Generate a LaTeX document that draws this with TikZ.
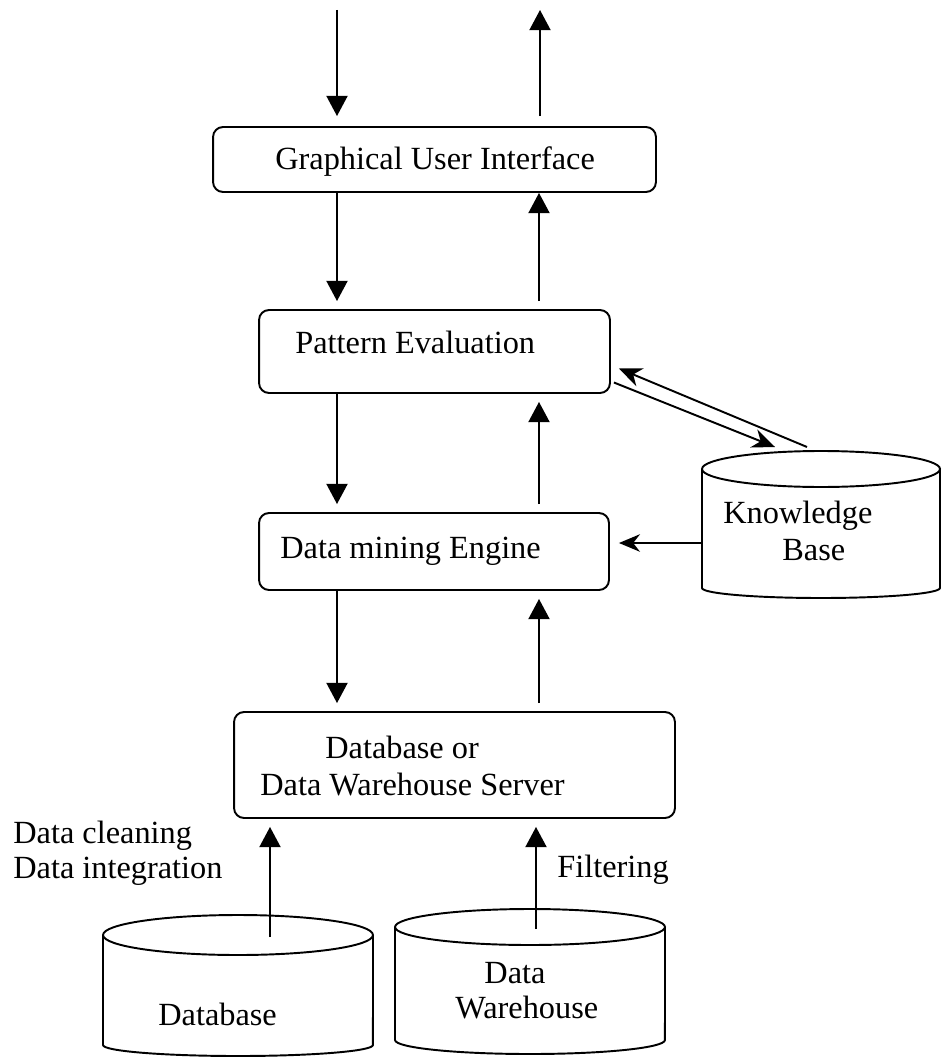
\documentclass[tikz,border=0pt]{standalone}
\usepackage{fontspec}
\setmainfont{Liberation Serif}
\usetikzlibrary{arrows.meta}
\begin{document}
\begin{tikzpicture}[x=0.02cm,y=-0.02cm,
  box/.style={draw, rounded corners=0.2cm, line width=1.1pt, inner sep=0pt},
  txt/.style={inner sep=0pt, font=\fontsize{18.4}{21.5}\selectfont},
  arr/.style={line width=1.0pt, -{Triangle[length=11.5pt,width=12pt]}},
  darr/.style={line width=1.1pt, -{Stealth[length=13pt,width=11pt]}},
  thinarr/.style={line width=0.8pt, -{Stealth[length=12pt,width=10pt]}},
  gapend/.style={shorten >=0.16cm},
  gapstart/.style={shorten <=0.16cm},
  cyl/.style={line width=1.1pt}]
\useasboundingbox (0,0) rectangle (941,1057);

% boxes
\node[box, minimum width=8.86cm, minimum height=1.3cm] (gui) at (434.5,159.5) {};
\node[box, minimum width=7.02cm, minimum height=1.66cm] (pe) at (434.5,351.5) {};
\node[box, minimum width=7.0cm, minimum height=1.54cm] (dm) at (434,551.5) {};
\node[box, minimum width=8.82cm, minimum height=2.12cm] (srv) at (454.5,765) {};

% box texts
\node[txt, anchor=base west] (guit) at (275,170) {Graphical User Interface};
\node[txt, anchor=base west] (pet) at (295,353) {Pattern Evaluation};
\node[txt, anchor=base west] (dmt) at (280,558) {Data mining Engine};
\node[txt, anchor=base west] (srvt1) at (325,758) {Database or};
\node[txt, anchor=base west] (srvt2) at (260,795) {Data Warehouse Server};

% cylinders
\draw[cyl] (821,469) ellipse [x radius=2.38cm, y radius=0.36cm];
\draw[cyl] (702,469) -- (702,588) arc[start angle=180,end angle=360,x radius=2.38cm,y radius=0.2cm] -- (940,469);
\node[txt, anchor=base west] (kbt1) at (723,523) {Knowledge};
\node[txt, anchor=base west] (kbt2) at (782,560) {Base};

\draw[cyl] (238,935) ellipse [x radius=2.7cm, y radius=0.4cm];
\draw[cyl] (103,935) -- (103,1045) arc[start angle=180,end angle=360,x radius=2.7cm,y radius=0.22cm] -- (373,935);
\node[txt, anchor=base west] (dbt) at (158,1025) {Database};

\draw[cyl] (530,927) ellipse [x radius=2.7cm, y radius=0.36cm];
\draw[cyl] (395,927) -- (395,1040) arc[start angle=180,end angle=360,x radius=2.7cm,y radius=0.28cm] -- (665,927);
\node[txt, anchor=base] (dwt1) at (515,983) {Data};
\node[txt, anchor=base west] (dwt2) at (455,1018) {Warehouse};

% labels
\node[txt, anchor=base west] (lab1) at (13,843) {Data cleaning};
\node[txt, anchor=base west] (lab2) at (13,878) {Data integration};
\node[txt, anchor=base west] (lab3) at (557,877) {Filtering};

% coordinates
\coordinate (cL) at (337,0);
\coordinate (cR) at (539,0);
\coordinate (inp) at (337,10);
\coordinate (outp) at (540,10);
\coordinate (kbL) at (702,543);
\coordinate (kbA) at (807,447);
\coordinate (kbB) at (775,447);
\coordinate (dbtop) at (270,937);
\coordinate (dwtop) at (536,929);

% connectors
\draw[arr, shorten >=0.2cm] (inp) -- (gui.north -| inp);
\draw[arr, shorten <=0.2cm] (gui.north -| outp) -- (outp);
\draw[arr, gapend] (gui.south -| cL) -- (pe.north -| cL);
\draw[arr, gapstart] (pe.north -| cR) -- (gui.south -| cR);
\draw[arr, gapend] (pe.south -| cL) -- (dm.north -| cL);
\draw[arr, gapstart, gapend] (dm.north -| cR) -- (pe.south -| cR);
\draw[arr, gapend] (dm.south -| cL) -- (srv.north -| cL);
\draw[arr, gapstart, gapend] (srv.north -| cR) -- (dm.south -| cR);
\draw[thinarr] (kbL) -- ([xshift=0.18cm]dm.east |- kbL);
\draw[darr] (kbA) -- ([shift={(8,17)}]pe.east);
\draw[darr] ([shift={(3,31)}]pe.east) -- (kbB);
\draw[arr, gapend] (dbtop) -- (srv.south -| dbtop);
\draw[arr, gapend] (dwtop) -- (srv.south -| dwtop);
\end{tikzpicture}
\end{document}
